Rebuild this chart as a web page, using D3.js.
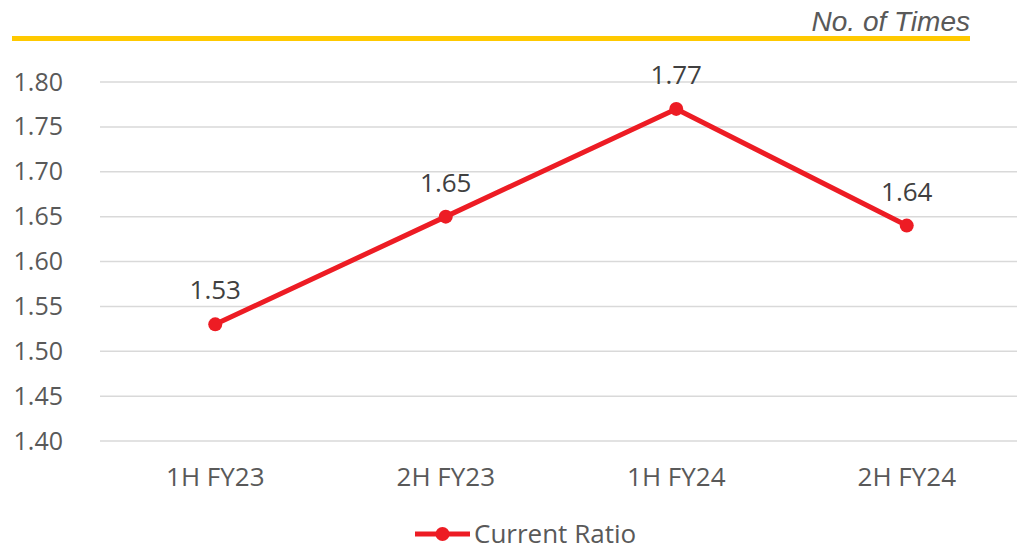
<!DOCTYPE html>
<html>
<head>
<meta charset="utf-8">
<script src="https://cdn.jsdelivr.net/npm/d3@7"></script>
<style>
  body { margin: 0; background: #fff; }
  text { font-family: "Open Sans", sans-serif; }
</style>
</head>
<body>
<div id="chart"></div>
<script>
const categories = ["1H FY23", "2H FY23", "1H FY24", "2H FY24"];
const currentRatio = [1.53, 1.65, 1.77, 1.64];
const yTicks = [1.40, 1.45, 1.50, 1.55, 1.60, 1.65, 1.70, 1.75, 1.80];
const seriesName = "Current Ratio";
const unitLabel = "No. of Times";

const width = 1017, height = 550;
const margin = {top: 82, right: 0, bottom: 109, left: 100};

const svg = d3.select("#chart")
  .append("svg")
    .attr("width", width)
    .attr("height", height);

// header: unit label + yellow rule
svg.append("text")
    .attr("x", 970)
    .attr("y", 31)
    .attr("text-anchor", "end")
    .attr("font-size", 28)
    .attr("font-style", "italic")
    .style("font-family", "'Liberation Sans', Arial, sans-serif")
    .attr("fill", "#595959")
    .text(unitLabel);

svg.append("rect")
    .attr("x", 12)
    .attr("y", 36)
    .attr("width", 958)
    .attr("height", 5)
    .attr("fill", "#FFC900");

let x = d3.scaleBand()
    .domain(categories)
    .range([margin.left, 1022]);

let y = d3.scaleLinear()
    .domain([1.40, 1.80])
    .range([height - margin.bottom, margin.top]);

// gridlines
svg.append("g")
  .selectAll("line")
  .data(yTicks)
  .join("line")
    .attr("x1", margin.left)
    .attr("x2", width)
    .attr("y1", d => y(d))
    .attr("y2", d => y(d))
    .attr("stroke", "#d9d9d9")
    .attr("stroke-width", 1.5);

// y axis labels
let yAxis = g => g
    .attr("transform", `translate(${margin.left},0)`)
    .call(d3.axisLeft(y).tickValues(yTicks).tickFormat(d3.format(".2f")).tickSize(0).tickPadding(37))
    .call(g => g.select(".domain").remove())
    .call(g => g.selectAll("text")
        .attr("font-size", 25)
        .attr("fill", "#595959")
        .style("font-family", "'Open Sans', sans-serif"));

svg.append("g").call(yAxis);

// x axis labels
let xAxis = g => g
    .attr("transform", `translate(0,${y(1.40)})`)
    .call(d3.axisBottom(x).tickSize(0).tickPadding(27))
    .call(g => g.select(".domain").remove())
    .call(g => g.selectAll("text")
        .attr("font-size", 26)
        .attr("fill", "#595959")
        .style("font-family", "'Open Sans', sans-serif"));

svg.append("g").call(xAxis);

const red = "#ED1C24";
const pts = categories.map((c, i) => ({c, v: currentRatio[i]}));
const cx = d => x(d.c) + x.bandwidth() / 2;

svg.append("path")
    .datum(pts)
    .attr("fill", "none")
    .attr("stroke", red)
    .attr("stroke-width", 5)
    .attr("stroke-linejoin", "round")
    .attr("d", d3.line().x(cx).y(d => y(d.v)));

svg.append("g")
  .selectAll("circle")
  .data(pts)
  .join("circle")
    .attr("cx", cx)
    .attr("cy", d => y(d.v))
    .attr("r", 7)
    .attr("fill", red);

svg.append("g")
  .selectAll("text")
  .data(pts)
  .join("text")
    .attr("x", cx)
    .attr("y", d => y(d.v) - 25)
    .attr("text-anchor", "middle")
    .attr("font-size", 26)
    .attr("fill", "#404040")
    .text(d => d.v.toFixed(2));

// legend
const legend = svg.append("g").attr("transform", "translate(415,534)");
legend.append("line")
    .attr("x1", 0).attr("x2", 55)
    .attr("stroke", red).attr("stroke-width", 5);
legend.append("circle")
    .attr("cx", 27.5).attr("r", 7).attr("fill", red);
legend.append("text")
    .attr("x", 59)
    .attr("dy", "0.35em")
    .attr("font-size", 26)
    .attr("fill", "#595959")
    .text(seriesName);
</script>
</body>
</html>
